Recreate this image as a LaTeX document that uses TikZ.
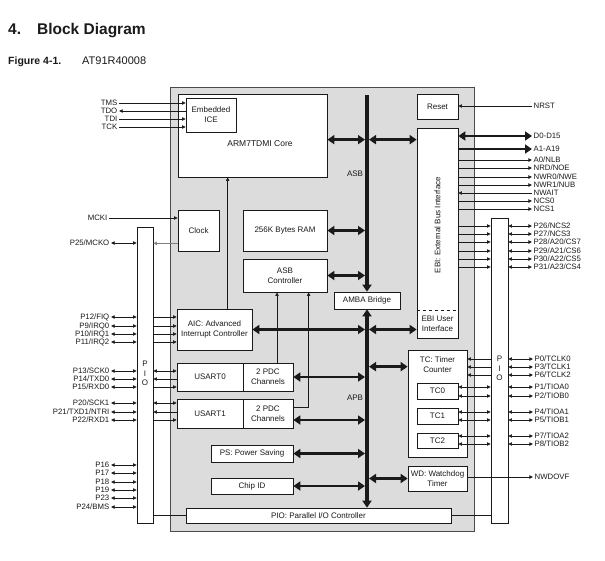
\documentclass[tikz,border=0pt]{standalone}
\usepackage{fontspec}
\setmainfont{Liberation Sans}
\usetikzlibrary{calc,arrows.meta}
\definecolor{chipbg}{HTML}{DCDCDC}
\definecolor{edge}{HTML}{4A4A4A}
\definecolor{ink}{HTML}{1A1A1A}
\tikzset{
  chip/.style={draw=edge, fill=chipbg, line width=0.7pt},
  blk/.style={draw=ink, fill=white, line width=0.7pt, inner sep=0pt, align=center, text=ink, font=\fontsize{8}{10}\selectfont},
  bar/.style={draw=ink, fill=white, line width=0.7pt, inner sep=0pt},
  sig/.style={draw=ink, line width=0.7pt, -{Triangle[length=3.6pt,width=3.4pt]}},
  bi/.style={draw=ink, line width=0.7pt, {Triangle[length=3.6pt,width=3.4pt]}-{Triangle[length=3.6pt,width=3.4pt]}},
  wire/.style={draw=ink, line width=0.7pt},
  fat/.style={draw=ink, line width=2.8pt, {Triangle[length=7pt,width=9pt]}-{Triangle[length=7pt,width=9pt]}},
  fatto/.style={draw=ink, line width=2.8pt, -{Triangle[length=7pt,width=9pt]}},
  bus/.style={draw=ink, line width=3.6pt},
  pinl/.style={anchor=east, inner sep=1.5pt, text=ink, font=\fontsize{7.8}{8}\selectfont},
  pinr/.style={anchor=west, inner sep=1.5pt, text=ink, font=\fontsize{7.8}{8}\selectfont},
  lab/.style={text=ink, font=\fontsize{8}{10}\selectfont, align=center},
}
\begin{document}
\begin{tikzpicture}[x=1pt,y=-1pt]
  \useasboundingbox (0,0) rectangle (605,560);
  % heading
  \node[anchor=base west, inner sep=0pt, text=ink, font=\bfseries\fontsize{15.5}{18}\selectfont] (ttl) at (8,34) {4.\hspace{16pt}Block Diagram};
  \node[anchor=base west, inner sep=0pt, text=ink, font=\bfseries\fontsize{10.5}{12}\selectfont] (fig) at (8,64) {Figure 4-1.};
  \node[anchor=base west, inner sep=0pt, text=ink, font=\fontsize{11}{13}\selectfont] (part) at (82,64) {AT91R40008};

  % chip and blocks
  \node[chip, minimum width=304pt, minimum height=444pt] (chipbox) at (322,309) {};
  \node[blk, minimum width=149pt, minimum height=83pt] (core) at (252.5,135.5) {};
  \node[lab, font=\fontsize{8.5}{10}\selectfont] (coretxt) at (260,144) {ARM7TDMI Core};
  \node[blk, minimum width=50pt, minimum height=34pt] (ice) at (211,115) {Embedded\\ICE};
  \node[blk, minimum width=41pt, minimum height=41pt] (clock) at (198.5,230.5) {Clock};
  \node[blk, minimum width=84pt, minimum height=41pt] (ram) at (285,230.5) {256K Bytes RAM};
  \node[blk, minimum width=84pt, minimum height=33pt] (asbc) at (285,275.5) {ASB\\Controller};
  \node[blk, minimum width=66pt, minimum height=17pt] (amba) at (367,300.5) {AMBA Bridge};
  \node[blk, minimum width=41pt, minimum height=25pt] (reset) at (437.5,106.5) {Reset};
  \node[blk, minimum width=41pt, minimum height=210pt] (ebi) at (437.5,233) {};
  \node[lab, rotate=90] (ebitxt) at (437.5,225) {EBI: External Bus Interface};
  \draw[wire, dashed] ($(ebi.south west)+(0,-28)$) -- ($(ebi.south east)+(0,-28)$);
  \node[lab] (ebiui) at (437.5,324) {EBI User\\Interface};
  \node[blk, minimum width=75pt, minimum height=41pt] (aic) at (214.5,329.5) {AIC: Advanced\\Interrupt Controller};
  \node[blk, minimum width=66pt, minimum height=28pt] (us0) at (210,377) {USART0};
  \node[blk, minimum width=50pt, minimum height=28pt] (pdc0) at (268,377) {2 PDC\\Channels};
  \node[blk, minimum width=66pt, minimum height=29pt] (us1) at (210,413.5) {USART1};
  \node[blk, minimum width=50pt, minimum height=29pt] (pdc1) at (268,413.5) {2 PDC\\Channels};
  \node[blk, minimum width=82pt, minimum height=17pt] (ps) at (252,453.5) {PS: Power Saving};
  \node[blk, minimum width=82pt, minimum height=16pt] (chipid) at (252,486) {Chip ID};
  \node[blk, minimum width=265pt, minimum height=15pt] (pioc) at (318.5,515.5) {PIO: Parallel I/O Controller};
  \node[blk, minimum width=59pt, minimum height=107pt] (tc) at (437.5,403.5) {};
  \node[lab] (tctxt) at (437.5,365) {TC: Timer\\Counter};
  \node[blk, minimum width=41pt, minimum height=16pt] (tc0) at (437.5,391) {TC0};
  \node[blk, minimum width=41pt, minimum height=16pt] (tc1) at (437.5,416) {TC1};
  \node[blk, minimum width=41pt, minimum height=15pt] (tc2) at (437.5,440.5) {TC2};
  \node[blk, minimum width=59pt, minimum height=25pt] (wd) at (437.5,478.5) {WD: Watchdog\\Timer};
  \node[bar, minimum width=16pt, minimum height=296pt] (pioL) at (145,375) {};
  \node[bar, minimum width=17pt, minimum height=305pt] (pioR) at (499.5,370.5) {};
  \node[lab, font=\fontsize{8}{9.5}\selectfont] (pioLtxt) at (145,373.5) {P\\I\\O};
  \node[lab, font=\fontsize{8}{9.5}\selectfont] (pioRtxt) at (499.5,368.5) {P\\I\\O};

  % ASB and APB
  \coordinate (asb) at (367,95);
  \coordinate (asbL) at (365,95);
  \coordinate (asbR) at (369,95);
  \draw[bus, -{Triangle[length=7pt,width=9pt]}] (asb) -- (amba.north);
  \draw[bus, {Triangle[length=7pt,width=9pt]}-{Triangle[length=7pt,width=9pt]}] (amba.south) -- (amba.south |- pioc.north);
  \node[lab] (asblab) at (355,174) {ASB};
  \node[lab] (apblab) at (355,398) {APB};

  \coordinate (coreport) at ($(core.north east)+(0,46)$);
  \draw[fat] (coreport) -- (coreport -| asbL);
  \draw[fat] (coreport -| asbR) -- (coreport -| ebi.west);
  \draw[fat] (ram.east) -- (ram.east -| asbL);
  \draw[fat] (asbc.east) -- (asbc.east -| asbL);
  \draw[fat] (aic.east) -- (aic.east -| asbL);
  \draw[fat] (aic.east -| asbR) -- (aic.east -| ebi.west);
  \coordinate (tcport) at ($(tc.north west)+(0,17)$);
  \draw[fat] (tcport -| asbR) -- (tcport);
  \draw[fat] (pdc0.east) -- (pdc0.east -| asbL);
  \coordinate (pdc1port) at ($(pdc1.east)+(0,6.5)$);
  \draw[fat] (pdc1port) -- (pdc1port -| asbL);
  \draw[fat] (ps.east) -- (ps.east -| asbL);
  \draw[fat] (chipid.east) -- (chipid.east -| asbL);
  \draw[fat] (wd.west -| asbR) -- (wd.west);

  % inner signals
  \coordinate (aicup) at ($(aic.north west)+(51,0)$);
  \draw[sig] (aicup) -- (aicup |- core.south);
  \coordinate (pdcup) at ($(pdc0.north)+(9,0)$);
  \draw[sig] (pdcup) -- (pdcup |- asbc.south);
  \coordinate (pdc1out) at ($(pdc1.north east)+(0,9)$);
  \draw[sig] (pdc1out) -| ($(asbc.south west)+(66,0)$);
  \coordinate (clkout) at ($(clock.south west)+(0,-8)$);
  \draw[sig, draw=gray] (clkout) -- (clkout -| pioL.east);
  \draw[wire] (pioc.west -| pioL.east) -- (pioc.west);
  \draw[wire] (pioc.east) -- (pioc.east -| pioR.west);

  % JTAG and clock in
  \node[pinl] (tms) at (119,103) {TMS};
  \node[pinl] (tdo) at (119,111) {TDO};
  \node[pinl] (tdi) at (119,119) {TDI};
  \node[pinl] (tck) at (119,127) {TCK};
  \draw[sig] (tms.east) -- (tms.east -| ice.west);
  \draw[sig] (tdo.east -| ice.west) -- (tdo.east);
  \draw[sig] (tdi.east) -- (tdi.east -| ice.west);
  \draw[sig] (tck.east) -- (tck.east -| ice.west);
  \node[pinl] (mcki) at (109,218) {MCKI};
  \draw[sig] (mcki.east) -- (mcki.east -| clock.west);

  % left PIO lines
  \foreach \yy/\nm/\txt in {243/mcko/{P25/MCKO}, 317/fiq/{P12/FIQ}, 326/irqa/{P9/IRQ0}, 334/irqb/{P10/IRQ1}, 342/irqc/{P11/IRQ2}, 371/scka/{P13/SCK0}, 379/txda/{P14/TXD0}, 387/rxda/{P15/RXD0}, 403/sckb/{P20/SCK1}, 412/txdb/{P21/TXD1/NTRI}, 420/rxdb/{P22/RXD1}, 465/pa/P16, 473/pb/P17, 482/pc/P18, 490/pd/P19, 498/pe/P23, 507/bms/{P24/BMS}}{
    \node[pinl] (\nm) at (111,\yy) {\txt};
    \draw[bi] (\nm.east) -- (\nm.east -| pioL.west);
  }
  \foreach \nm in {fiq,irqa,irqb,irqc}
    \draw[sig] (\nm -| pioL.east) -- (\nm -| aic.west);
  \draw[bi] (scka -| pioL.east) -- (scka -| us0.west);
  \draw[sig] (txda -| us0.west) -- (txda -| pioL.east);
  \draw[sig] (rxda -| pioL.east) -- (rxda -| us0.west);
  \draw[bi] (sckb -| pioL.east) -- (sckb -| us1.west);
  \draw[sig] (txdb -| us1.west) -- (txdb -| pioL.east);
  \draw[sig] (rxdb -| pioL.east) -- (rxdb -| us1.west);

  % external bus
  \node[pinr] (nrst) at (532,106) {NRST};
  \draw[sig] (nrst.west) -- (nrst.west -| reset.east);
  \node[pinr] (data) at (532,136) {D0-D15};
  \draw[fat] (data.west -| ebi.east) -- (data.west);
  \node[pinr] (addr) at (532,149) {A1-A19};
  \draw[fatto] (addr.west -| ebi.east) -- (addr.west);
  \foreach \yy/\nm/\txt in {160/nlb/{A0/NLB}, 168/noe/{NRD/NOE}, 177/nwe/{NWR0/NWE}, 185/nub/{NWR1/NUB}, 201/ncsa/NCS0, 209/ncsb/NCS1}{
    \node[pinr] (\nm) at (532,\yy) {\txt};
    \draw[sig] (\nm.west -| ebi.east) -- (\nm.west);
  }
  \node[pinr] (nwait) at (532,193) {NWAIT};
  \draw[sig] (nwait.west) -- (nwait.west -| ebi.east);

  % right PIO lines
  \foreach \yy/\nm/\txt in {226/csb/{P26/NCS2}, 234/csc/{P27/NCS3}, 242/csd/{P28/A20/CS7}, 251/cse/{P29/A21/CS6}, 259/csf/{P30/A22/CS5}, 267/csg/{P31/A23/CS4}}{
    \node[pinr] (\nm) at (532,\yy) {\txt};
    \draw[bi] (\nm.west -| pioR.east) -- (\nm.west);
    \draw[sig] (\nm.west -| ebi.east) -- (\nm.west -| pioR.west);
  }
  \foreach \yy/\nm/\txt in {359/clka/{P0/TCLK0}, 367/clkb/{P3/TCLK1}, 375/clkc/{P6/TCLK2}}{
    \node[pinr] (\nm) at (533,\yy) {\txt};
    \draw[bi] (\nm.west -| pioR.east) -- (\nm.west);
    \draw[sig] (\nm.west -| pioR.west) -- (\nm.west -| tc.east);
  }
  \foreach \yy/\nm/\txt/\blkname in {387/ioaa/{P1/TIOA0}/tc0, 396/ioba/{P2/TIOB0}/tc0, 412/ioab/{P4/TIOA1}/tc1, 420/iobb/{P5/TIOB1}/tc1, 436/ioac/{P7/TIOA2}/tc2, 444/iobc/{P8/TIOB2}/tc2}{
    \node[pinr] (\nm) at (533,\yy) {\txt};
    \draw[bi] (\nm.west -| pioR.east) -- (\nm.west);
    \draw[bi] (\nm.west -| \blkname.east) -- (\nm.west -| pioR.west);
  }
  \node[pinr] (wdo) at (533,477) {NWDOVF};
  \draw[sig] (wdo.west -| wd.east) -- (wdo.west);
\end{tikzpicture}
\end{document}
